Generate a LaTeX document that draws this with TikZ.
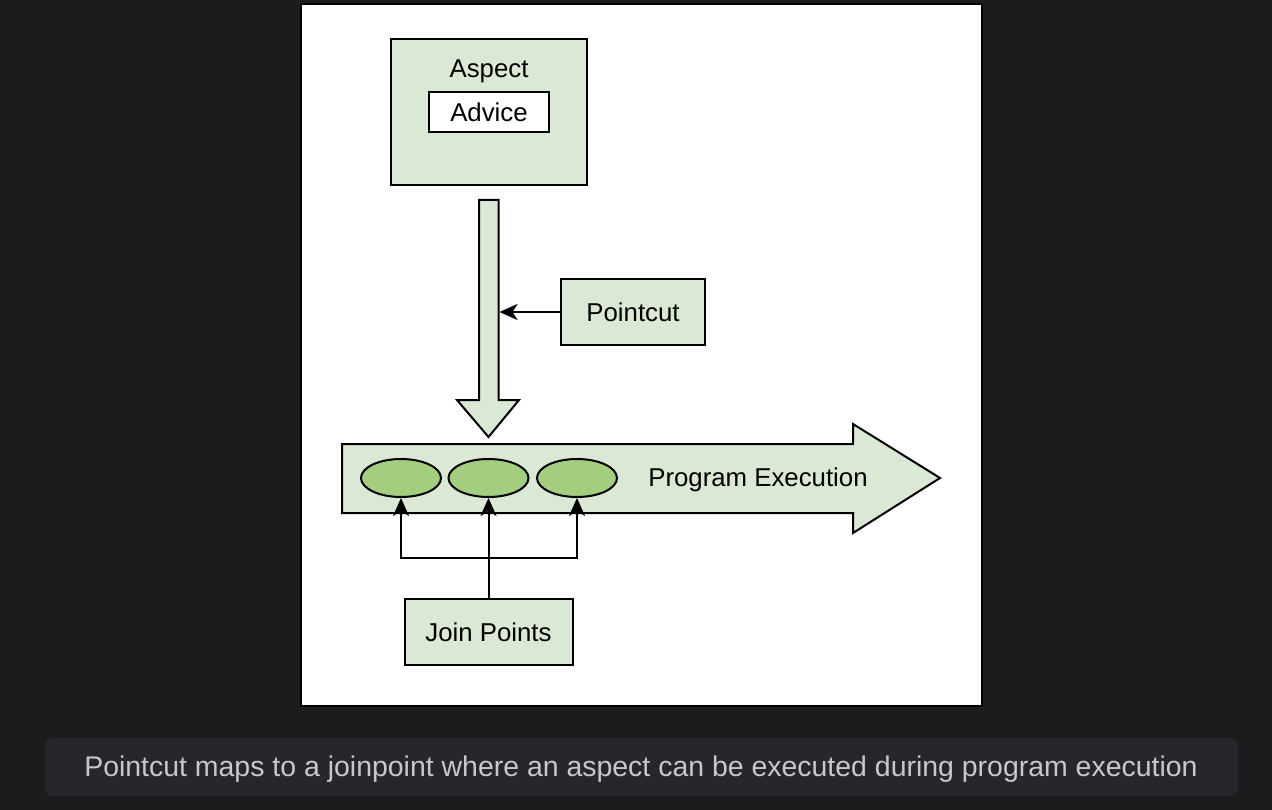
\documentclass[tikz,border=0pt]{standalone}
\usepackage{fontspec}
\setmainfont{Liberation Sans}
\usetikzlibrary{positioning,shapes.geometric,arrows.meta}

\definecolor{pagebg}{RGB}{28,28,30}
\definecolor{capbg}{RGB}{38,39,42}
\definecolor{captext}{RGB}{200,200,204}
\definecolor{boxgreen}{RGB}{218,232,213}
\definecolor{dotgreen}{RGB}{163,206,127}

\tikzset{every picture/.style={line width=2pt}}
\tikzset{
  greenbox/.style={draw=black, fill=boxgreen, inner sep=0pt},
  whitebox/.style={draw=black, fill=white, inner sep=0pt},
  joinpt/.style={ellipse, draw=black, fill=dotgreen, minimum width=80pt, minimum height=38pt, inner sep=0pt},
  lbl/.style={font=\fontsize{25.8}{30}\selectfont, inner sep=0pt, text depth=0pt},
  conn/.style={line width=2pt, -{Stealth[length=18pt,width=16pt,inset=5pt]}}
}

\begin{document}
\begin{tikzpicture}[x=1pt,y=1pt,yscale=-1]
        \useasboundingbox (0,0) rectangle (1272,810);
        \fill [pagebg] (0,0) rectangle (1272,810);
        % white panel
        \draw [fill=white] (300.5,4.5) rectangle (981.5,705.5);
        % caption
        \fill [capbg, rounded corners=8pt] (45,738) rectangle (1238,796);
        \node [font=\fontsize{28.45}{34}\selectfont, text=captext, inner sep=0pt, text depth=0pt] (caption) at (641,766.5) {Pointcut maps to a joinpoint where an aspect can be executed during program execution};
        % aspect with advice
        \node [greenbox, minimum width=196pt, minimum height=146pt] (aspect) at (489,112) {};
        \node [lbl] (aspecttxt) at (489,69) {Aspect};
        \node [whitebox, lbl, minimum width=120pt, minimum height=40pt] (advice) at (489,112) {Advice};
        % weaving arrow
        \draw [fill=boxgreen] (479,200) -- (498.5,200) -- (498.5,400) -- (519,400) -- (488.5,437) -- (457,400) -- (479,400) -- cycle;
        \coordinate (shaft) at (499.5,312);
        % program execution arrow
        \draw [fill=boxgreen] (342,444) -- (853,444) -- (853,424) -- (940,478) -- (853,533) -- (853,513) -- (342,513) -- cycle;
        \node [lbl] (progtxt) at (758,477) {Program Execution};
        \node [joinpt] (jp1) at (401,478) {};
        \node [joinpt] (jp2) at (488.5,478) {};
        \node [joinpt] (jp3) at (577,478) {};
        % pointcut
        \node [greenbox, lbl, minimum width=144pt, minimum height=66pt] (pointcut) at (633,312) {Pointcut};
        \draw [conn] (pointcut.west) -- (shaft);
        % join points
        \node [greenbox, lbl, minimum width=168pt, minimum height=66pt] (joins) at (488.5,632) {Join Points};
        \draw [conn] (joins.north) -- (jp2.south);
        \draw [conn] (joins.north) -- ++(0,-40) -| (jp1.south);
        \draw [conn] (joins.north) -- ++(0,-40) -| (jp3.south);
    \end{tikzpicture}
\end{document}
